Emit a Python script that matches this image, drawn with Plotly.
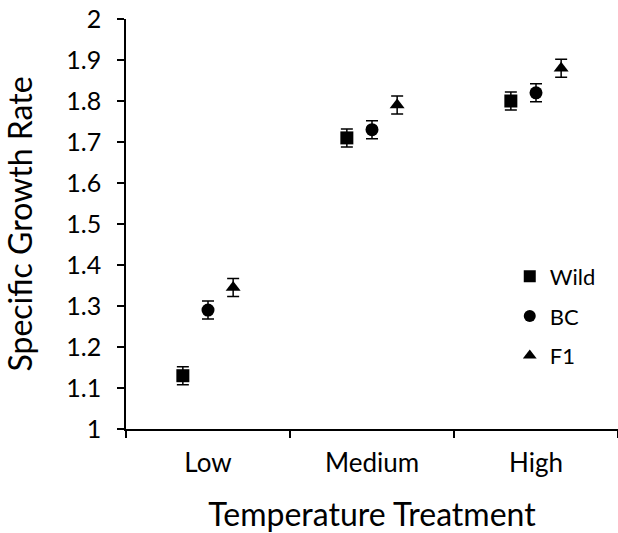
import plotly.graph_objects as go

categories = ["Low", "Medium", "High"]
series_names = ["Wild", "BC", "F1"]
wild = [1.13, 1.71, 1.80]
bc = [1.29, 1.73, 1.82]
f1 = [1.345, 1.79, 1.88]
wild_err = [0.022, 0.022, 0.022]
bc_err = [0.022, 0.022, 0.022]
f1_err = [0.022, 0.022, 0.022]
y_ticks = [1, 1.1, 1.2, 1.3, 1.4, 1.5, 1.6, 1.7, 1.8, 1.9, 2]
y_tick_text = ["1", "1.1", "1.2", "1.3", "1.4", "1.5", "1.6", "1.7", "1.8", "1.9", "2"]

FONT = "Lato, 'Open Sans', sans-serif"
symbols = ["square", "circle", "triangle-up"]
values = [wild, bc, f1]
errors = [wild_err, bc_err, f1_err]

fig = go.Figure()
for name, vals, errs, sym in zip(series_names, values, errors, symbols):
    fig.add_trace(go.Scatter(
        x=categories, y=vals, name=name, mode="markers",
        offsetgroup=name, legendgroup=name,
        marker=dict(symbol=sym, size=13, color="black"),
        error_y=dict(type="data", array=errs, visible=True, color="black",
                     thickness=1.5, width=6),
    ))

fig.update_layout(
    width=618, height=533,
    margin=dict(l=126, r=0, t=19, b=104),
    paper_bgcolor="white", plot_bgcolor="white",
    scattermode="group", scattergap=0.54,
    font=dict(family=FONT, color="black", size=22),
    showlegend=True,
    legend=dict(x=0.78, y=0.423, xanchor="left", yanchor="top",
                font=dict(size=22, family=FONT), itemsizing="constant",
                tracegroupgap=8, bgcolor="rgba(0,0,0,0)"),
)
fig.update_xaxes(
    type="category", tickson="boundaries", ticks="outside", ticklen=7,
    tickwidth=1.5, tickcolor="black", showline=True, linecolor="black",
    linewidth=1.5, showgrid=False, zeroline=False, range=[-0.5, 2.5],
    automargin=False, ticklabelstandoff=10,
    tickfont=dict(size=26, family=FONT),
    title=dict(text="Temperature Treatment", font=dict(size=32, family=FONT), standoff=27),
)
fig.update_yaxes(
    range=[1, 2], tickvals=y_ticks, ticktext=y_tick_text, ticks="outside", ticklen=7,
    tickwidth=1.5, tickcolor="black", showline=True, linecolor="black",
    linewidth=1.5, showgrid=False, zeroline=False,
    automargin=False, ticklabelstandoff=11, ticklabeloverflow="allow",
    tickfont=dict(size=25, family=FONT),
    title=dict(text="Specific Growth Rate", font=dict(size=32, family=FONT), standoff=25),
)

fig.write_html("out.html", config={"displayModeBar": False},
               post_script="document.body.style.margin='0';")
